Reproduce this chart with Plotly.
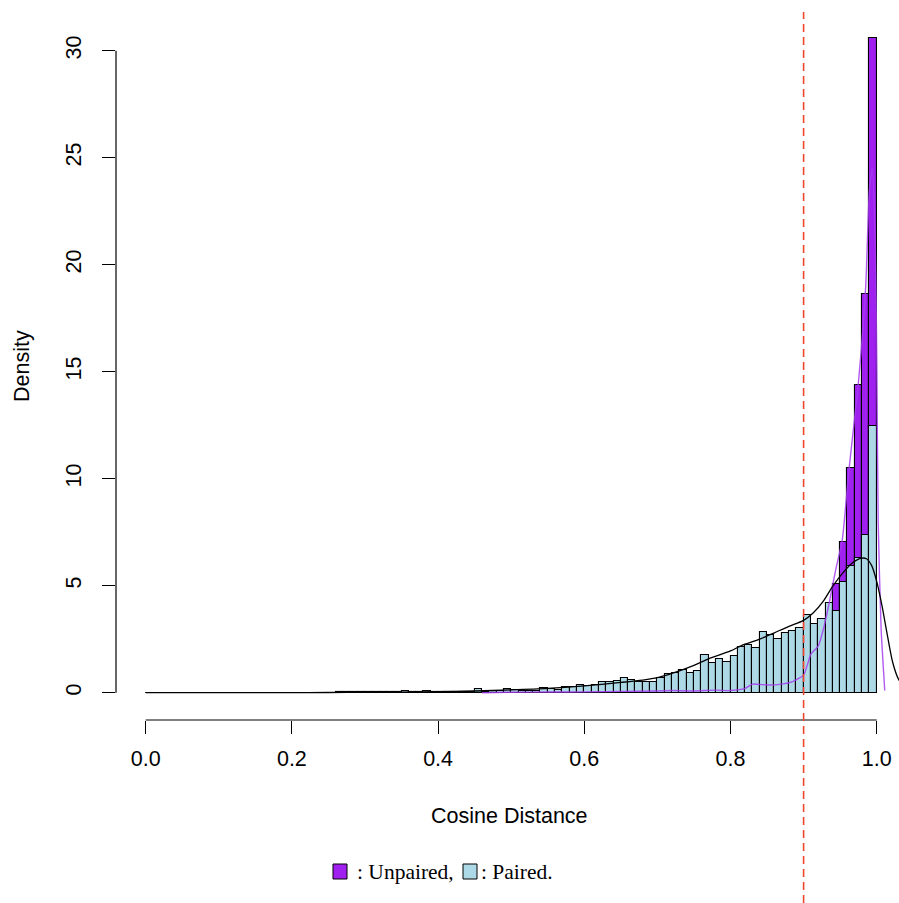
import plotly.graph_objects as go

# ---------------- data ----------------
bin_edges_start = [i / 100 for i in range(100)]  # histogram bins of width 0.01

paired_density = [
    0, 0, 0, 0, 0, 0, 0, 0, 0, 0,
    0, 0, 0, 0, 0, 0, 0, 0, 0, 0,
    0, 0, 0, 0, 0.005, 0.005, 0.01, 0.01, 0.01, 0.01,
    0.02, 0.02, 0.02, 0.02, 0.02, 0.06, 0.02, 0.03, 0.06, 0.03,
    0.03, 0.04, 0.04, 0.05, 0.05, 0.15, 0.05, 0.07, 0.10, 0.17,
    0.13, 0.10, 0.10, 0.10, 0.22, 0.15, 0.13, 0.28, 0.25, 0.34,
    0.30, 0.34, 0.48, 0.51, 0.56, 0.69, 0.61, 0.50, 0.50, 0.50,
    0.67, 0.86, 0.93, 1.06, 0.93, 1.03, 1.74, 1.40, 1.56, 1.45,
    1.73, 2.13, 2.23, 2.10, 2.85, 2.69, 2.49, 2.80, 2.88, 3.01,
    3.61, 3.19, 3.46, 4.21, 3.82, 5.17, 5.93, 6.29, 7.37, 12.46,
]

unpaired_density = [
    0, 0, 0, 0, 0, 0, 0, 0, 0, 0,
    0, 0, 0, 0, 0, 0, 0, 0, 0, 0,
    0, 0, 0, 0, 0, 0, 0, 0, 0, 0,
    0, 0, 0, 0, 0, 0, 0, 0, 0, 0,
    0, 0, 0, 0, 0, 0.01, 0.01, 0.01, 0.02, 0.02,
    0.02, 0.02, 0.03, 0.03, 0.03, 0.03, 0.04, 0.04, 0.04, 0.05,
    0.05, 0.05, 0.05, 0.06, 0.06, 0.06, 0.07, 0.07, 0.08, 0.08,
    0.09, 0.10, 0.10, 0.09, 0.08, 0.09, 0.11, 0.12, 0.11, 0.10,
    0.12, 0.18, 0.30, 0.40, 0.38, 0.37, 0.38, 0.40, 0.45, 0.55,
    0.85, 1.55, 2.20, 3.40, 5.08, 7.06, 10.48, 14.36, 18.63, 30.58,
]

paired_kde_x = [0.0, 0.1, 0.2, 0.25, 0.3, 0.35, 0.4, 0.45, 0.5, 0.55, 0.6, 0.65,
                0.68, 0.70, 0.72, 0.75, 0.77, 0.80, 0.815, 0.84, 0.86, 0.88, 0.90,
                0.913, 0.927, 0.94, 0.954, 0.967, 0.978, 0.986, 0.993, 1.000,
                1.007, 1.014, 1.022, 1.03, 1.04]
paired_kde_y = [0.0, 0.0, 0.003, 0.008, 0.015, 0.03, 0.05, 0.08, 0.13, 0.2, 0.32, 0.48,
                0.59, 0.70, 0.90, 1.28, 1.58, 1.95, 2.2, 2.5, 2.8, 3.1, 3.38,
                3.72, 4.28, 4.98, 5.61, 6.07, 6.28, 6.26, 5.95, 5.2,
                4.1, 2.8, 1.40, 0.62, 0.2]

unpaired_kde_x = [0.46, 0.5, 0.55, 0.6, 0.65, 0.7, 0.72, 0.75, 0.78, 0.8, 0.82, 0.83,
                  0.85, 0.87, 0.885, 0.9, 0.91, 0.92, 0.927, 0.935, 0.944, 0.953,
                  0.962, 0.975, 0.985, 0.99, 0.994, 0.998, 1.0, 1.002, 1.006, 1.011]
unpaired_kde_y = [0.0, 0.02, 0.03, 0.04, 0.06, 0.08, 0.1, 0.08, 0.12, 0.1, 0.2, 0.4,
                  0.36, 0.4, 0.52, 0.82, 1.8, 2.18, 2.96, 4.2, 5.76, 7.17,
                  10.4, 14.5, 19.0, 23.5, 24.5, 21.0, 16.0, 8.0, 3.0, 0.1]

threshold = 0.9

x_tick_vals = [0.0, 0.2, 0.4, 0.6, 0.8, 1.0]
x_tick_text = ["0.0", "0.2", "0.4", "0.6", "0.8", "1.0"]
y_tick_vals = [0, 5, 10, 15, 20, 25, 30]
y_tick_text = ["0", "5", "10", "15", "20", "25", "30"]

# ---------------- layout geometry ----------------
W, H = 899, 903
ML, MR, MT, MB = 116, 0, 12, 183
XR = [-0.0406, 1.0305]
YR = [-1.276, 31.81]
PW = W - ML - MR
PH = H - MT - MB


def px_to_paper_x(px):
    return (px - ML) / PW


def px_to_paper_y(py):
    return (H - MB - py) / PH


def data_to_paper_x(v):
    return (v - XR[0]) / (XR[1] - XR[0])


def data_to_paper_y(v):
    return (v - YR[0]) / (YR[1] - YR[0])


SANS = "Liberation Sans, Arial, Helvetica, sans-serif"
SERIF = "Liberation Serif, Times New Roman, serif"
FS = 21.5
PURPLE = "#A020F0"
LIGHTBLUE = "#ADD8E6"

fig = go.Figure()

fig.add_trace(go.Bar(
    x=bin_edges_start, y=unpaired_density, width=0.01, offset=0,
    marker=dict(color=PURPLE, line=dict(color="black", width=1.1)),
    showlegend=False,
))
fig.add_trace(go.Bar(
    x=bin_edges_start, y=paired_density, width=0.01, offset=0,
    marker=dict(color=LIGHTBLUE, line=dict(color="black", width=1.1)),
    showlegend=False,
))
fig.add_trace(go.Scatter(
    x=unpaired_kde_x, y=unpaired_kde_y, mode="lines",
    line=dict(color="rgba(165,60,240,0.85)", width=1.4, shape="spline", smoothing=0.5),
    showlegend=False,
))
fig.add_trace(go.Scatter(
    x=paired_kde_x, y=paired_kde_y, mode="lines",
    line=dict(color="black", width=1.3, shape="spline", smoothing=0.8),
    showlegend=False,
))

shapes = []
# axis lines (R style, only spanning tick range)
shapes.append(dict(type="line", xref="paper", yref="paper",
                   x0=data_to_paper_x(0.0), x1=data_to_paper_x(1.0), y0=0, y1=0,
                   line=dict(color="black", width=1.2)))
shapes.append(dict(type="line", xref="paper", yref="paper",
                   x0=0, x1=0, y0=data_to_paper_y(0), y1=data_to_paper_y(30),
                   line=dict(color="black", width=1.2)))
# threshold dashed line
shapes.append(dict(type="line", xref="paper", yref="paper",
                   x0=data_to_paper_x(threshold), x1=data_to_paper_x(threshold),
                   y0=px_to_paper_y(H), y1=1,
                   line=dict(color="#F0462D", width=1.6, dash="8px,5px")))
# legend squares
shapes.append(dict(type="rect", xref="paper", yref="paper",
                   x0=px_to_paper_x(333), x1=px_to_paper_x(347),
                   y0=px_to_paper_y(879), y1=px_to_paper_y(864),
                   fillcolor=PURPLE, line=dict(color="black", width=1)))
shapes.append(dict(type="rect", xref="paper", yref="paper",
                   x0=px_to_paper_x(463), x1=px_to_paper_x(477),
                   y0=px_to_paper_y(879), y1=px_to_paper_y(864),
                   fillcolor=LIGHTBLUE, line=dict(color="black", width=1)))

annotations = [
    dict(text="Cosine Distance", xref="paper", yref="paper",
         x=px_to_paper_x(510), y=px_to_paper_y(816), xanchor="center", yanchor="middle",
         showarrow=False, font=dict(family=SANS, size=FS, color="black")),
    dict(text="Density", xref="paper", yref="paper", textangle=-90,
         x=px_to_paper_x(22), y=px_to_paper_y(366), xanchor="center", yanchor="middle",
         showarrow=False, font=dict(family=SANS, size=FS, color="black")),
    dict(text=": Unpaired,", xref="paper", yref="paper",
         x=px_to_paper_x(355), y=px_to_paper_y(872), xanchor="left", yanchor="middle",
         showarrow=False, font=dict(family=SERIF, size=FS, color="black")),
    dict(text=": Paired.", xref="paper", yref="paper",
         x=px_to_paper_x(479), y=px_to_paper_y(872), xanchor="left", yanchor="middle",
         showarrow=False, font=dict(family=SERIF, size=FS, color="black")),
]

fig.update_layout(
    width=W, height=H,
    margin=dict(l=ML, r=MR, t=MT, b=MB, pad=0),
    paper_bgcolor="white", plot_bgcolor="white",
    barmode="overlay", bargap=0,
    shapes=shapes, annotations=annotations,
    font=dict(family=SANS, size=FS, color="black"),
    xaxis=dict(range=XR, tickvals=x_tick_vals, ticktext=x_tick_text,
               ticks="outside", ticklen=13, tickwidth=1.2, tickcolor="black",
               showline=False, showgrid=False, zeroline=False,
               ticklabelstandoff=6,
               tickfont=dict(family=SANS, size=FS, color="black")),
    yaxis=dict(range=YR, tickvals=y_tick_vals, ticktext=y_tick_text,
               ticks="outside", ticklen=13, tickwidth=1.2, tickcolor="black",
               showline=False, showgrid=False, zeroline=False, tickangle=-90,
               ticklabelstandoff=12,
               tickfont=dict(family=SANS, size=FS, color="black")),
)

fig.write_html(
    "out.html",
    config={"displayModeBar": False},
    post_script="document.body.style.margin='0';document.body.style.overflow='hidden';",
)
